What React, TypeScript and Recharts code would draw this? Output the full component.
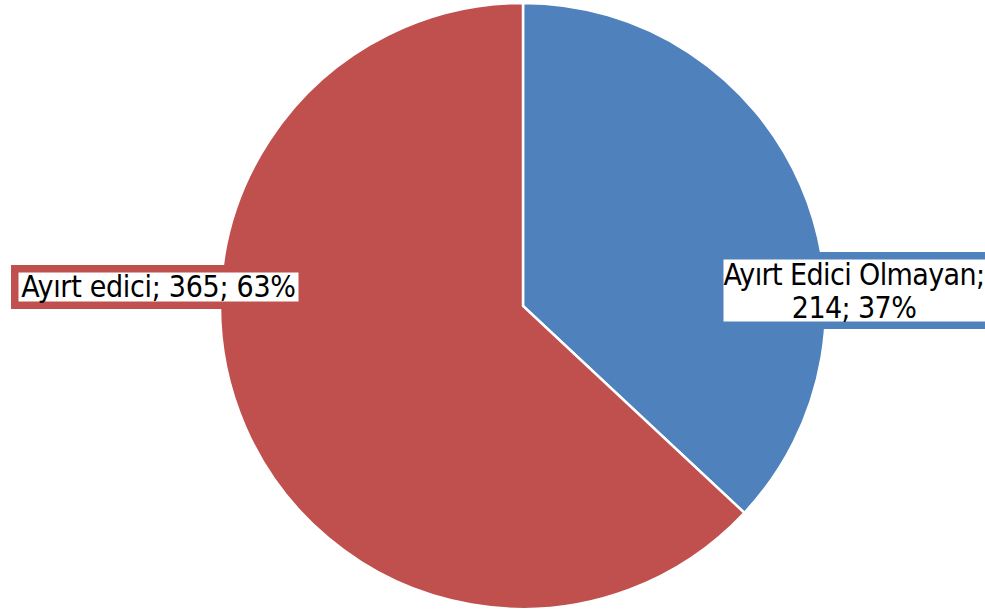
import { PieChart, Pie, Cell } from "recharts"

const names = ["Ayırt Edici Olmayan", "Ayırt edici"]
const values = [214, 365]
const colors = ["#4F81BD", "#C0504D"]

const data = names.map((name, i) => ({ name, value: values[i] }))

const FONT = "'Liberation Sans Narrow', 'DejaVu Sans Condensed', 'Liberation Sans', sans-serif"

// label boxes, relative to the pie centre
const boxes = [
  { dx: 193, dy: -54, w: 280, h: 77, lines: 2, tx: -2, ls: -0.6 },
  { dx: -512, dy: -41, w: 295, h: 44, lines: 1, tx: 0, ls: -0.3 },
]

const renderLabel = (props: any) => {
  const { cx, cy, index, name, value, percent } = props
  const b = boxes[index]
  const x = cx + b.dx
  const y = cy + b.dy
  const pct = Math.round(percent * 100) + "%"
  const mid = x + b.w / 2 + b.tx
  return (
    <g>
      <rect
        x={x + 3.75}
        y={y + 3.75}
        width={b.w - 7.5}
        height={b.h - 7.5}
        fill="#fff"
        stroke={colors[index]}
        strokeWidth={7.5}
      />
      {b.lines === 2 ? (
        <text textAnchor="middle" fontFamily={FONT} fontSize={30} letterSpacing={b.ls} fill="#000">
          <tspan x={mid} y={y + 33}>{name};</tspan>
          <tspan x={mid} y={y + 66}>{value}; {pct}</tspan>
        </text>
      ) : (
        <text x={mid} y={y + 32} textAnchor="middle" fontFamily={FONT} fontSize={30} letterSpacing={b.ls} fill="#000">
          {name}; {value}; {pct}
        </text>
      )}
    </g>
  )
}

export default function App() {
  return (
    <div style={{ position: "absolute", left: 0, top: 0, width: 985, height: 613, background: "#fff" }}>
      <PieChart width={985} height={613} margin={{ top: 0, right: 0, bottom: 0, left: 0 }}>
        <Pie
          data={data}
          dataKey="value"
          nameKey="name"
          cx={523}
          cy={306}
          outerRadius={303}
          startAngle={90}
          endAngle={-270}
          stroke="#fff"
          strokeWidth={2.5}
          label={renderLabel}
          labelLine={false}
          isAnimationActive={false}
        >
          {data.map((d, i) => (
            <Cell key={d.name} fill={colors[i]} />
          ))}
        </Pie>
      </PieChart>
    </div>
  )
}
